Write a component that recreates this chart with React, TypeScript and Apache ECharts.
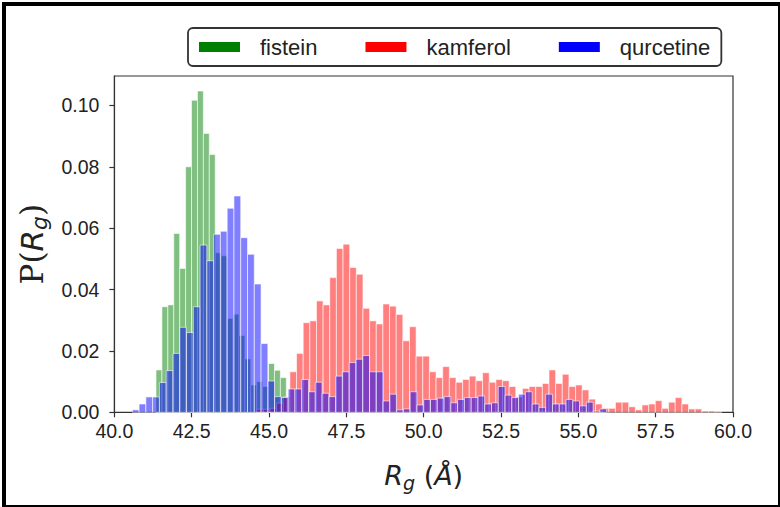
import React, { useEffect, useRef } from "react";
import * as echarts from "echarts";

// ---- data ----
const SERIES_NAMES = ["fistein", "kamferol", "qurcetine"];
const X_TICKS = [40, 42.5, 45, 47.5, 50, 52.5, 55, 57.5, 60];
const Y_TICKS = [0, 0.02, 0.04, 0.06, 0.08, 0.1];

// histogram bins: first bin edge, bin width, bin heights
const fisteinFirstEdge = 41.345;
const fisteinBinWidth = 0.1915;
const fisteinValues = [
  0.0138, 0.0344, 0.035, 0.0583, 0.0469, 0.08, 0.1017, 0.1047, 0.0909, 0.084,
  0.052, 0.051, 0.0306, 0.032, 0.025, 0.0174, 0.0089, 0.01, 0.0084, 0.0159,
  0.0137, 0.0113,
];

const kamferolFirstEdge = 44.6;
const kamferolBinWidth = 0.2148;
const kamferolValues = [
  0.001, 0.001, 0.0013, 0.003, 0.005, 0.0132, 0.0192, 0.0292, 0.0298, 0.0363,
  0.035, 0.0439, 0.0534, 0.0548, 0.0472, 0.045, 0.0339, 0.0298, 0.0288, 0.0353,
  0.0346, 0.0319, 0.0233, 0.0279, 0.0183, 0.0183, 0.0132, 0.0113, 0.0149, 0.0113,
  0.0098, 0.0107, 0.0118, 0.0103, 0.0129, 0.0098, 0.0107, 0.0103, 0.0084, 0.005,
  0.0078, 0.0084, 0.0084, 0.0094, 0.0138, 0.0094, 0.0124, 0.0084, 0.0089, 0.0073,
  0.0043, 0.0027, 0.0013, 0.0013, 0.0033, 0.0033, 0.0018, 0.0008, 0.0024, 0.0027,
  0.0038, 0.0013, 0.0033, 0.0048, 0.0027, 0.0011, 0.0011, 0.0004, 0.0004, 0.0003,
];

const qurcetineFirstEdge = 40.579;
const qurcetineBinWidth = 0.2191;
const qurcetineValues = [
  0.0008, 0.0027, 0.005, 0.005, 0.0097, 0.0136, 0.0192, 0.0277, 0.026, 0.0344,
  0.0545, 0.0494, 0.058, 0.059, 0.0665, 0.0705, 0.0569, 0.0515, 0.0418, 0.0224,
  0.0102, 0.0051, 0.0048, 0.0076, 0.0076, 0.0107, 0.0067, 0.0098, 0.0062, 0.0051,
  0.0118, 0.0132, 0.0162, 0.0173, 0.0185, 0.0132, 0.0132, 0.0037, 0.0059, 0.0008,
  0.0011, 0.0067, 0.0024, 0.0042, 0.0042, 0.0046, 0.0051, 0.0031, 0.0042, 0.0048,
  0.0048, 0.0053, 0.0027, 0.0031, 0.0084, 0.0056, 0.0048, 0.0059, 0.0067, 0.0027,
  0.0016, 0.0059, 0.0027, 0.0027, 0.0042, 0.0037, 0.0021, 0.0033, 0.0004, 0.0011,
];

const Y_MAX = 0.1096;

function bins(first: number, width: number, values: number[]) {
  return values.map((v, i) => [first + i * width, first + (i + 1) * width, v]);
}

const FILLS = ["rgba(0,128,0,0.5)", "rgba(255,0,0,0.5)", "rgba(0,0,255,0.5)"];
const SOLID = ["#008000", "#ff0000", "#0000ff"];

export default function App() {
  const ref = useRef<HTMLDivElement>(null);

  useEffect(() => {
    if (!ref.current) return;
    const chart = echarts.init(ref.current, undefined, { renderer: "svg" });

    const datasets = [
      bins(fisteinFirstEdge, fisteinBinWidth, fisteinValues),
      bins(kamferolFirstEdge, kamferolBinWidth, kamferolValues),
      bins(qurcetineFirstEdge, qurcetineBinWidth, qurcetineValues),
    ];

    const series = datasets.map((data, si) => ({
      type: "custom",
      name: SERIES_NAMES[si],
      data,
      encode: { x: [0, 1], y: 2 },
      itemStyle: { color: FILLS[si] },
      renderItem: (params: any, api: any) => {
        const x0 = api.value(0);
        const x1 = api.value(1);
        const v = api.value(2);
        const p0 = api.coord([x0, v]);
        const p1 = api.coord([x1, 0]);
        return {
          type: "rect",
          shape: { x: p0[0], y: p0[1], width: p1[0] - p0[0], height: p1[1] - p0[1] },
          style: { fill: FILLS[si], stroke: "rgba(255,255,255,0.75)", lineWidth: 0.8 },
        };
      },
    }));

    const tickFont = "'Liberation Sans', Arial, sans-serif";

    chart.setOption({
      animation: false,
      backgroundColor: "#ffffff",
      grid: {
        left: 114.4,
        right: 47,
        top: 76,
        bottom: 94.7,
        show: true,
        borderColor: "#333",
        borderWidth: 1.2,
        containLabel: false,
      },
      legend: {
        data: SERIES_NAMES.map((n, i) => ({ name: n, itemStyle: { color: SOLID[i], opacity: 1, borderWidth: 0 } })),
        left: 188,
        top: 28,
        orient: "horizontal",
        icon: "rect",
        itemWidth: 41,
        itemHeight: 10,
        itemGap: 48,
        padding: [8, 11, 8, 11],
        borderColor: "#333",
        borderWidth: 1.8,
        borderRadius: 5,
        backgroundColor: "#ffffff",
        textStyle: { fontFamily: tickFont, fontSize: 22, color: "#222", padding: [0, 0, 0, 15] },
        selectedMode: false,
      },
      xAxis: {
        type: "value",
        min: 40,
        max: 60,
        interval: 2.5,
        axisLine: { show: true, lineStyle: { color: "#333", width: 1.2 } },
        axisTick: { show: true, length: 5, lineStyle: { color: "#333", width: 1.2 } },
        splitLine: { show: false },
        axisLabel: {
          fontFamily: tickFont,
          fontSize: 19.5,
          color: "#222",
          margin: 9,
          formatter: (v: number) => v.toFixed(1),
          customValues: X_TICKS,
        },
        name: "{i|R}{s|g}{n| (}{i|Å}{n|)}",
        nameLocation: "middle",
        nameGap: 46,
        nameTextStyle: {
          rich: {
            i: { fontFamily: "'DejaVu Sans'", fontStyle: "italic", fontSize: 27, color: "#222", lineHeight: 34 },
            n: { fontFamily: "'DejaVu Sans'", fontSize: 27, color: "#222", lineHeight: 34 },
            s: { fontFamily: "'DejaVu Sans'", fontStyle: "italic", fontSize: 19, color: "#222", lineHeight: 20, verticalAlign: "bottom" },
          },
        },
      },
      yAxis: {
        type: "value",
        min: 0,
        max: Y_MAX,
        axisLine: { show: true, lineStyle: { color: "#333", width: 1.2 } },
        axisTick: { show: true, length: 5, lineStyle: { color: "#333", width: 1.2 }, customValues: Y_TICKS },
        splitLine: { show: false },
        axisLabel: {
          fontFamily: tickFont,
          fontSize: 19.5,
          color: "#222",
          margin: 15,
          formatter: (v: number) => v.toFixed(2),
          customValues: Y_TICKS,
        },
        name: "{a|P(}{b|R}{c|g}{a|)}",
        nameLocation: "middle",
        nameRotate: 90,
        nameGap: 55,
        nameTextStyle: {
          rich: {
            a: { fontFamily: "'DejaVu Serif', 'Liberation Serif', serif", fontSize: 31, color: "#222", lineHeight: 38 },
            b: { fontFamily: "'DejaVu Sans'", fontStyle: "italic", fontSize: 31, color: "#222", lineHeight: 38 },
            c: { fontFamily: "'DejaVu Sans'", fontStyle: "italic", fontSize: 22, color: "#222", lineHeight: 23, verticalAlign: "bottom" },
          },
        },
      },
      graphic: [
        {
          type: "rect",
          left: 1.5,
          top: 1.5,
          shape: { x: 0, y: 0, width: 776, height: 503 },
          style: { fill: "none", stroke: "#000", lineWidth: 4 },
          silent: true,
        },
      ],
      series,
    });

    return () => chart.dispose();
  }, []);

  return (
    <div
      ref={ref}
      style={{ position: "absolute", left: 0, top: 0, width: 780, height: 507, background: "#fff" }}
    />
  );
}
